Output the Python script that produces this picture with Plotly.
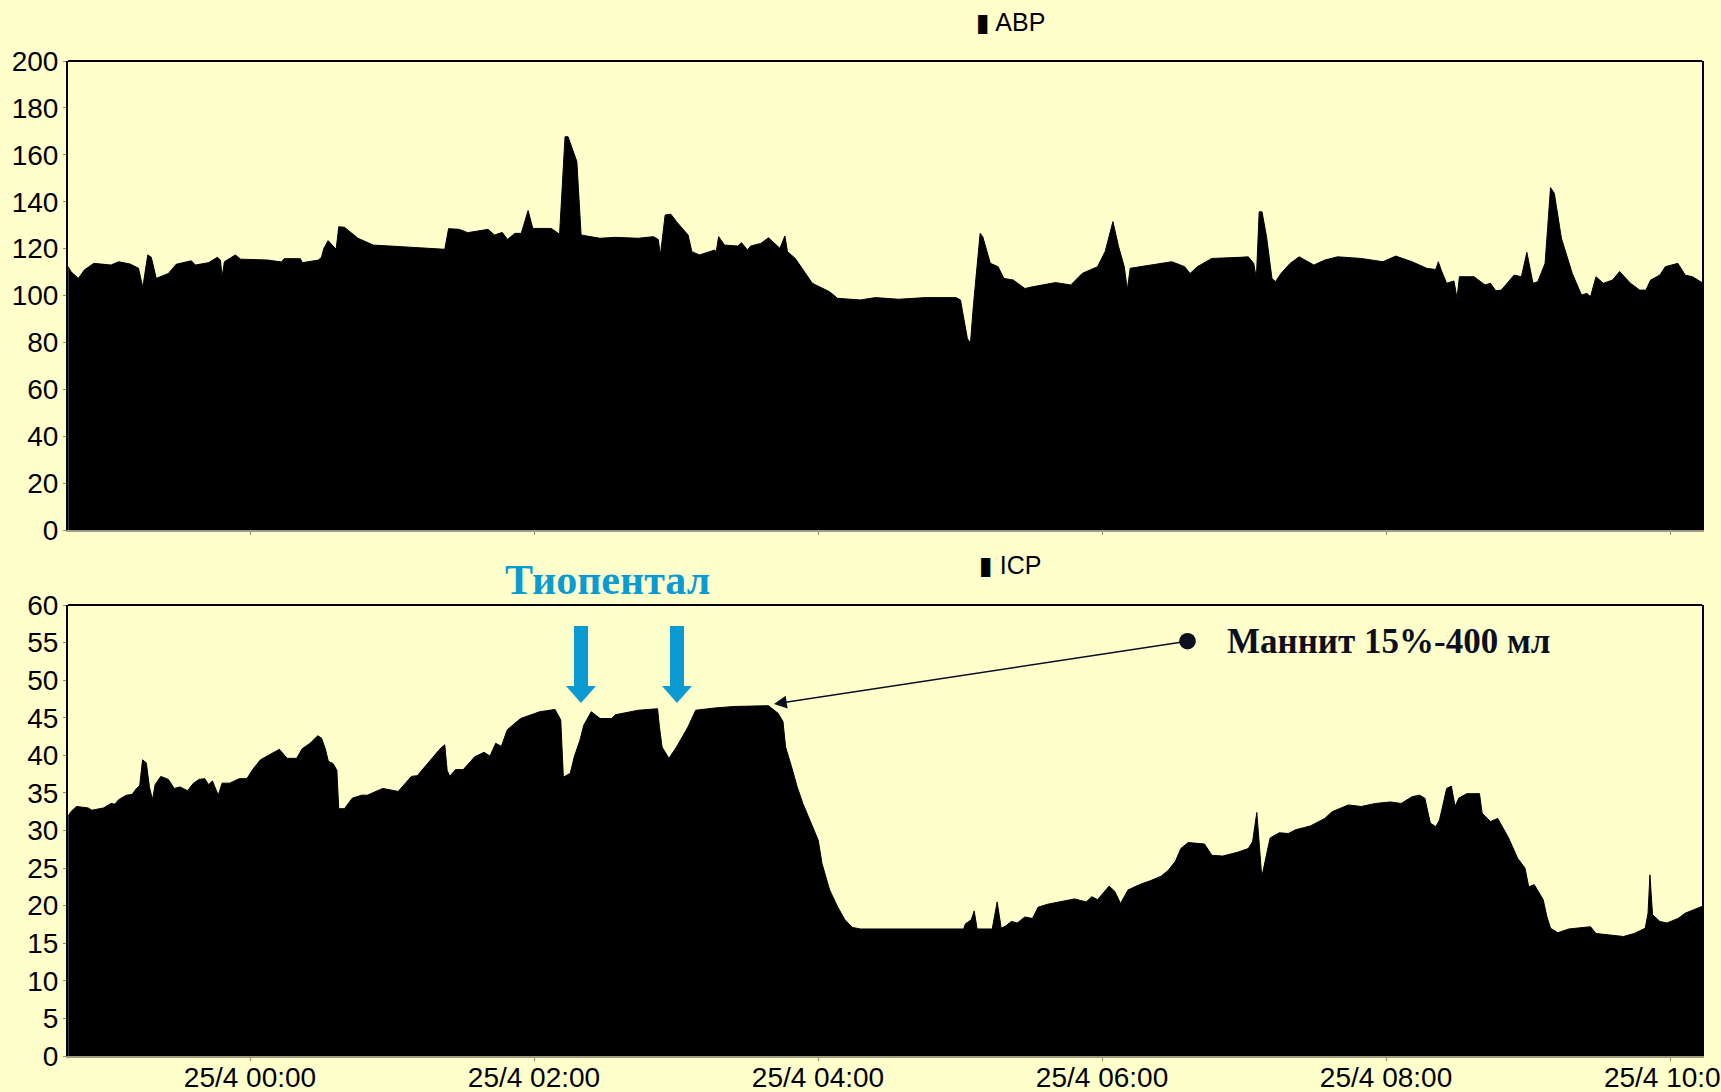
import pandas as pd
import plotly.graph_objects as go

# ---------------- data (minutes relative to 25/4 00:00) ----------------
abp_t = [-76.8, -75.7, -72.5, -70.0, -66.0, -58.7, -55.5, -50.6, -47.1, -45.3, -43.2, -41.7, -39.6,
         -34.5, -31.2, -24.8, -23.1, -17.5, -13.8, -12.5, -11.8, -10.8, -6.2, -4.0, 7.6, 13.3, 14.4,
         21.3, 22.1, 28.9, 30.2, 31.2, 33.0, 35.4, 36.4, 37.5, 39.9, 45.6, 52.1, 64.2, 77.1, 82.3,
         83.9, 88.4, 92.0, 100.6, 103.3, 106.6, 108.8, 111.9, 114.6, 117.5, 119.5, 127.3, 130.8,
         133.1, 134.4, 136.3, 138.1, 139.9, 147.9, 154.4, 164.1, 170.5, 172.5, 173.4, 175.4, 177.8,
         180.2, 185.1, 186.7, 189.9, 196.4, 196.9, 198.0, 200.5, 206.1, 207.7, 210.2, 211.5, 215.8,
         219.1, 223.9, 226.0, 227.1, 230.4, 235.2, 237.6, 244.9, 248.2, 257.9, 264.3, 274.0, 285.3,
         298.3, 300.2, 303.1, 304.4, 305.6, 308.5, 309.6, 312.8, 316.1, 318.5, 322.5, 327.4, 330.6,
         335.5, 340.3, 346.8, 351.6, 358.1, 361.3, 364.6, 367.0, 369.4, 370.7, 371.9, 380.5, 389.5,
         394.9, 397.2, 400.3, 406.4, 418.7, 421.8, 424.1, 425.2, 426.4, 427.6, 429.5, 431.8, 433.3,
         435.6, 439.5, 443.3, 449.5, 454.1, 459.5, 469.5, 478.7, 484.1, 491.0, 497.2, 501.0, 502.1,
         503.3, 505.6, 508.7, 510.0, 511.0, 517.2, 521.8, 524.1, 526.4, 528.7, 534.1, 537.2, 539.5,
         542.1, 544.1, 547.2, 549.5, 551.1, 554.1, 558.7, 562.6, 564.9, 566.4, 568.7, 571.8, 575.7,
         578.7, 583.3, 587.2, 589.8, 591.8, 595.7, 598.0, 603.3, 606.4, 609.5, 613.5]
abp_v = [112.3, 110.2, 107.3, 110.9, 113.7, 113.0, 114.4, 113.4, 111.6, 103.5, 117.3, 116.3, 107.3,
         109.4, 113.3, 114.8, 113.0, 114.0, 116.3, 115.1, 108.0, 114.4, 117.3, 115.5, 115.1, 114.3, 115.7,
         115.7, 114.0, 115.1, 116.3, 120.1, 123.4, 120.5, 119.7, 129.3, 129.1, 124.4, 121.5, 120.8, 120.1, 119.7,
         128.5, 128.2, 126.8, 128.2, 125.8, 126.9, 123.9, 126.5, 126.5, 136.2, 128.6, 128.6, 126.1,
         167.7, 167.7, 162.7, 157.1, 125.8, 124.4, 124.8, 124.4, 125.1, 123.9, 117.3, 134.3, 134.7,
         131.5, 125.8, 118.7, 117.3, 119.4, 118.0, 125.1, 121.5, 121.1, 122.5, 119.4, 121.1, 122.2,
         124.6, 120.1, 125.4, 118.7, 115.8, 108.7, 105.2, 101.6, 98.8, 98.1, 99.1, 98.4, 99.1,
         99.1, 98.1, 81.7, 79.6, 95.2, 126.5, 125.1, 113.7, 112.3, 107.3, 106.6, 103.0, 103.7,
         104.5, 105.5, 104.5, 109.4, 112.3, 118.7, 131.5, 120.8, 112.3, 102.5, 111.6, 113.0, 114.4,
         112.3, 109.4, 112.3, 115.8, 116.3, 116.5, 113.7, 107.3, 135.7, 135.7, 125.1, 107.3, 105.9,
         109.4, 113.7, 116.5, 113.0, 115.1, 116.5, 115.8, 114.4, 116.8, 114.4, 111.6, 111.1, 114.4,
         110.9, 105.2, 106.2, 98.8, 108.0, 108.0, 104.5, 105.2, 102.0, 102.3, 108.7, 108.0, 118.4,
         105.2, 105.9, 113.7, 146.0, 143.6, 124.4, 109.4, 100.2, 100.9, 99.5, 108.0, 105.2, 106.6,
         110.2, 105.2, 102.3, 102.3, 106.6, 108.7, 112.3, 113.7, 108.7, 108.0, 105.5]

icp_t = [-76.8, -75.7, -73.3, -68.4, -66.8, -61.9, -58.7, -57.1, -55.5, -52.2, -49.8, -48.2, -46.6,
         -45.4, -43.8, -42.5, -41.2, -40.1, -37.7, -34.5, -32.0, -29.6, -26.4, -23.9, -21.5, -19.1,
         -17.5, -15.9, -13.4, -11.8, -8.6, -4.5, -1.3, 1.1, 4.4, 7.6, 12.4, 15.7, 19.7, 22.1, 25.4,
         28.6, 30.2, 31.8, 33.1, 35.1, 36.7, 37.5, 39.9, 43.2, 47.2, 49.6, 53.7, 56.1, 62.6, 65.8,
         68.2, 70.7, 73.9, 77.1, 80.4, 82.3, 83.3, 84.4, 86.8, 90.1, 94.9, 98.9, 101.4, 103.8, 106.2,
         108.7, 114.3, 122.4, 128.9, 131.3, 132.4, 135.3, 137.0, 139.4, 141.0, 144.2, 147.9, 152.8,
         154.4, 164.1, 172.2, 173.0, 174.1, 177.0, 180.2, 185.1, 188.3, 196.4, 204.5, 219.1, 223.1,
         225.2, 226.3, 228.8, 231.2, 233.6, 236.0, 240.1, 241.7, 244.9, 248.2, 251.4, 254.6, 257.9,
         301.5, 302.3, 304.7, 306.0, 307.2, 313.6, 315.7, 317.4, 319.3, 321.7, 324.2, 327.4, 330.6,
         333.0, 337.1, 341.9, 348.4, 353.3, 355.7, 358.1, 363.0, 365.4, 367.8, 371.0, 375.9, 380.3,
         384.9, 388.0, 391.0, 393.3, 396.4, 403.3, 406.4, 411.0, 417.2, 421.8, 423.6, 425.4, 427.5,
         431.0, 434.9, 438.7, 441.8, 448.0, 454.1, 457.2, 464.1, 469.5, 475.6, 481.8, 486.4, 491.0,
         494.1, 496.4, 498.7, 501.0, 502.6, 505.6, 507.6, 509.2, 510.7, 514.1, 519.5, 520.6, 524.1,
         527.2, 531.8, 535.6, 538.7, 540.3, 542.6, 546.4, 548.0, 549.5, 552.6, 557.2, 566.4, 568.7,
         574.1, 580.3, 584.9, 589.5, 590.7, 591.5, 592.6, 595.7, 598.7, 603.4, 606.4, 609.5, 613.5]
icp_v = [31.9, 32.5, 33.2, 33.0, 32.7, 33.0, 33.6, 33.5, 34.1, 34.7, 34.8, 35.5, 36.0,
         39.4, 39.0, 35.8, 34.1, 36.1, 37.2, 36.8, 35.6, 35.8, 35.3, 36.3, 36.8, 36.9,
         36.1, 36.6, 34.7, 36.3, 36.3, 36.9, 36.9, 38.1, 39.4, 40.0, 40.8, 39.6, 39.6, 40.9, 41.6,
         42.6, 42.3, 40.9, 39.2, 38.9, 38.0, 32.9, 32.9, 34.3, 34.7, 34.7, 35.2, 35.6, 35.2, 36.3,
         37.2, 37.3, 38.5, 39.6, 40.9, 41.4, 38.0, 37.2, 38.1, 38.1, 39.8, 40.4, 39.9, 41.6, 41.2,
         43.4, 44.9, 45.8, 46.1, 44.7, 37.1, 37.6, 39.8, 42.0, 44.0, 45.8, 44.9, 44.9,
         45.4, 46.0, 46.2, 43.8, 41.1, 39.6, 41.1, 43.8, 46.0, 46.3, 46.5, 46.6, 45.6,
         44.5, 41.1, 38.5, 35.8, 33.6, 31.8, 28.7, 25.6, 22.1, 19.9, 18.1, 17.1, 16.9,
         16.9, 17.6, 18.1, 19.3, 16.9, 16.9, 20.5, 17.0, 17.3, 17.9, 17.7, 18.5, 18.3,
         19.8, 20.2, 20.5, 20.9, 20.5, 21.2, 20.8, 22.6, 21.9, 20.3, 22.1, 22.8, 23.3,
         23.9, 24.7, 25.9, 27.6, 28.4, 28.2, 26.7, 26.6, 27.1, 27.6, 28.5, 32.4, 23.8,
         29.0, 29.7, 29.6, 30.1, 30.6, 31.6, 32.5, 33.4, 33.2, 33.6, 33.8, 33.6, 34.5,
         34.7, 34.3, 31.0, 30.5, 31.4, 35.6, 35.9, 33.2, 34.3, 34.9, 34.9, 32.3, 31.2,
         31.6, 29.0, 26.3, 25.0, 22.5, 22.8, 20.8, 18.5, 17.0, 16.4, 16.9, 17.2, 16.3,
         16.1, 15.9, 16.3, 17.0, 19.0, 24.1, 18.8, 17.9, 17.7, 18.3, 19.0, 19.4, 19.9]

abp_ticks = list(range(0, 201, 20))
icp_ticks = list(range(0, 61, 5))
x_range_min = [-76.9, 613.5]

# ---------------- helpers ----------------
BASE = pd.Timestamp("2000-04-25 00:00")


def to_dt(mins):
    return [BASE + pd.Timedelta(minutes=m) for m in mins]


W, H = 1721, 1092
# target pixel frame: left 68, right 1702, top 61, bottom 1056
ML, MT = 68, 61
MR = W - 1702
MB = H - 1056
PW, PH = W - ML - MR, H - MT - MB


def px(x):
    return (x - ML) / PW


def py(y):
    return (H - MB - y) / PH


BG = "#FFFFCC"
BLUE = "#0A9BD2"
TICKFONT = dict(family="Liberation Sans, Arial, sans-serif", size=28, color="black")

fig = go.Figure()
fig.add_trace(go.Scatter(x=to_dt(abp_t), y=abp_v, mode="lines",
                         line=dict(color="black", width=1), fill="tozeroy",
                         fillcolor="black", xaxis="x", yaxis="y", showlegend=False,
                         hoverinfo="skip"))
fig.add_trace(go.Scatter(x=to_dt(icp_t), y=icp_v, mode="lines",
                         line=dict(color="black", width=1), fill="tozeroy",
                         fillcolor="black", xaxis="x2", yaxis="y2", showlegend=False,
                         hoverinfo="skip"))

xr = [str(d) for d in to_dt(x_range_min)]
xcommon = dict(type="date", range=xr, showgrid=False, zeroline=False, automargin=False,
               tick0="2000-04-25 00:00", dtick=2 * 3600 * 1000,
               ticks="outside", ticklen=3, tickcolor="#8c8c70",
               showline=True, linecolor="#9c9c80", linewidth=2,
               tickfont=TICKFONT, tickformat="%d/%-m %H:%M",
               ticklabeloverflow="allow", ticklabelstandoff=-8)
ycommon = dict(showgrid=False, zeroline=False, automargin=False, ticks="outside", ticklen=3,
               tickcolor="#8c8c70", showline=True, linecolor="black", linewidth=2,
               mirror=True, tickfont=TICKFONT, ticklabelstandoff=-1)

fig.update_layout(
    width=W, height=H, autosize=False,
    margin=dict(l=ML, r=MR, t=MT, b=MB, autoexpand=False),
    paper_bgcolor=BG, plot_bgcolor=BG,
    xaxis=dict(xcommon, domain=[0, 1], anchor="y", showticklabels=False),
    yaxis=dict(ycommon, domain=[py(530), 1], range=[0, 200], tickvals=abp_ticks),
    xaxis2=dict(xcommon, domain=[0, 1], anchor="y2", showticklabels=True),
    yaxis2=dict(ycommon, domain=[0, py(605)], range=[0, 60], tickvals=icp_ticks),
)

shapes = []
# top border lines of both panels
for xa, ya in (("x", "y"), ("x2", "y2")):
    shapes.append(dict(type="line", xref=f"{xa} domain", yref=f"{ya} domain",
                       x0=0, x1=1, y0=1, y1=1, line=dict(color="black", width=2),
                       layer="above"))

# blue arrows (Тиопентал)
for cx in (581, 677):
    pts = [(cx - 7, 626), (cx + 7, 626), (cx + 7, 686), (cx + 15, 686), (cx, 703),
           (cx - 15, 686), (cx - 7, 686)]
    path = "M " + " L ".join(f"{px(a):.5f},{py(b):.5f}" for a, b in pts) + " Z"
    shapes.append(dict(type="path", xref="paper", yref="paper", path=path,
                       fillcolor=BLUE, line=dict(color=BLUE, width=0), layer="above"))
fig.update_layout(shapes=shapes)

TITLEFONT = dict(family="Liberation Sans, DejaVu Sans, sans-serif", size=25, color="black")
annotations = [
    dict(text="▮ ABP", x=px(1010), y=py(22), xref="paper", yref="paper",
         showarrow=False, xanchor="center", yanchor="middle", font=TITLEFONT),
    dict(text="▮ ICP", x=px(1010), y=py(565), xref="paper", yref="paper",
         showarrow=False, xanchor="center", yanchor="middle", font=TITLEFONT),
    dict(text="<b>Тиопентал</b>", x=px(607), y=py(580), xref="paper", yref="paper",
         showarrow=False, xanchor="center", yanchor="middle",
         font=dict(family="Liberation Serif, DejaVu Serif, serif", size=42, color=BLUE)),
    dict(text="<b>Маннит 15%-400 мл</b>", x=px(1225), y=py(641), xref="paper", yref="paper",
         showarrow=False, xanchor="left", yanchor="middle",
         font=dict(family="Liberation Serif, DejaVu Serif, serif", size=35, color="#0b0f1e")),
    dict(text="", x=px(774), y=py(704), xref="paper", yref="paper",
         ax=1189 - 774, ay=641 - 704, showarrow=True, arrowside="end+start",
         arrowhead=2, arrowsize=1.6, startarrowhead=6, startarrowsize=2.6,
         arrowwidth=1.6, arrowcolor="#0b0f1e", standoff=0, startstandoff=0),
]
fig.update_layout(annotations=annotations)

fig.write_html("out.html", config=dict(displayModeBar=False),
               post_script="document.body.style.margin='0px';"
                           "document.body.style.overflow='hidden';"
                           "document.body.style.background='#FFFFCC';")
